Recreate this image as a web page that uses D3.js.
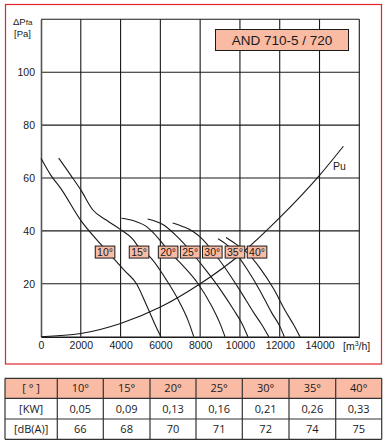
<!DOCTYPE html>
<html>
<head>
<meta charset="utf-8">
<script src="https://cdn.jsdelivr.net/npm/d3@7"></script>
<style>
  body { margin: 0; background: #fff; }
  svg { display: block; font-family: "Liberation Sans", Arial, sans-serif; }
</style>
</head>
<body>
<div id="chart"></div>
<script>
// fan curves (q in m3/h, p in Pa)
const angles = ["10°", "15°", "20°", "25°", "30°", "35°", "40°"];
const curve10 = [[0, 67.5], [500, 61], [1000, 56], [2000, 44], [3000, 35], [3600, 30], [4200, 25], [4800, 20], [5300, 12], [5800, 3.5], [6030, 0]];
const curve15 = [[890, 67.5], [1500, 61], [2000, 55.5], [2600, 48], [3300, 44], [4000, 40.5], [4600, 37], [5000, 33], [5500, 30], [6300, 21.5], [7000, 12.5], [7400, 6], [7680, 0]];
const curve20 = [[4050, 44.8], [4640, 43.9], [5310, 41.6], [5900, 37.2], [6400, 32.5], [7050, 27.5], [7850, 20.5], [8550, 12], [8970, 5.5], [9250, 0]];
const curve25 = [[5360, 44.5], [6150, 42.3], [6820, 38], [7500, 32.5], [8200, 26], [9000, 18], [9700, 10], [10100, 5], [10400, 0]];
const curve30 = [[6620, 43], [7150, 41.6], [7660, 39.7], [8100, 37], [8610, 32.5], [9300, 25.5], [10000, 17.5], [10700, 9], [11100, 4.5], [11450, 0]];
const curve35 = [[8900, 37], [9300, 35], [9750, 32], [10400, 25], [11000, 17.5], [11600, 9], [12000, 4], [12230, 0]];
const curve40 = [[9300, 37.5], [9800, 35], [10400, 31.5], [11000, 26], [11700, 18], [12300, 9.5], [12700, 4.5], [13020, 0]];
const fanCurves = [curve10, curve15, curve20, curve25, curve30, curve35, curve40];

// where the angle boxes sit
const labelQ = [3220, 4930, 6390, 7500, 8610, 9750, 10860];
const labelP = 32;

// Pu system curve
const puCurve = [[0, 0], [2000, 1.2], [4000, 5], [6000, 11.2], [8000, 20], [10000, 31], [12000, 45], [14000, 61], [15200, 72]];

const xTicks = [0, 2000, 4000, 6000, 8000, 10000, 12000, 14000];
const xGrid = [2000, 4000, 6000, 8000, 10000, 12000, 14000, 16000];
const yTicks = [20, 40, 60, 80, 100];
const yGrid = [20, 40, 60, 80, 100, 120];

// table
const rowHeads = ["[ ° ]", "[KW]", "[dB(A)]"];
const kw = ["0,05", "0,09", "0,13", "0,16", "0,21", "0,26", "0,33"];
const dba = ["66", "68", "70", "71", "72", "74", "75"];

const W = 389, H = 445;
const salmon = "#f9bba4";
const ink = "#1a1a1a";

const svg = d3.select("#chart").append("svg")
    .attr("width", W)
    .attr("height", H);

// red frame round the chart
svg.append("rect")
    .attr("x", 5.5).attr("y", 4.5)
    .attr("width", 376).attr("height", 359.5)
    .attr("fill", "none")
    .attr("stroke", "#e3232b")
    .attr("stroke-width", 1.2);

const x = d3.scaleLinear().domain([0, 16000]).range([41, 359.3]);
const y = d3.scaleLinear().domain([0, 120]).range([336.7, 19.3]);

// grid
const grid = svg.append("g").attr("stroke", ink).attr("stroke-width", 1.1);
grid.selectAll(".vg").data(xGrid).join("line")
    .attr("x1", d => x(d)).attr("x2", d => x(d))
    .attr("y1", y(0)).attr("y2", y(120));
grid.selectAll(".hg").data(yGrid).join("line")
    .attr("x1", x(0)).attr("x2", x(16000))
    .attr("y1", d => y(d)).attr("y2", d => y(d));

// axes
svg.append("g")
    .attr("transform", `translate(0,${y(0)})`)
    .call(d3.axisBottom(x).tickValues(xTicks).tickSize(0).tickPadding(5).tickFormat(d3.format("d")))
    .call(g => g.select(".domain").attr("stroke", ink).attr("stroke-width", 1.4))
    .selectAll("text")
    .attr("font-size", 10.5)
    .attr("font-family", "Liberation Sans, Arial, sans-serif")
    .attr("fill", ink);

svg.append("g")
    .attr("transform", `translate(${x(0)},0)`)
    .call(d3.axisLeft(y).tickValues(yTicks).tickSize(0).tickPadding(6))
    .call(g => g.select(".domain").attr("stroke", "#555").attr("stroke-width", 1.6))
    .selectAll("text")
    .attr("font-size", 10.5)
    .attr("font-family", "Liberation Sans, Arial, sans-serif")
    .attr("fill", ink);

// axis titles
const yt = svg.append("text")
    .attr("x", 13).attr("y", 25)
    .attr("font-size", 9.5).attr("fill", ink);
yt.append("tspan").text("ΔP");
yt.append("tspan").attr("font-size", 8).text("fa");
svg.append("text")
    .attr("x", 14).attr("y", 37)
    .attr("font-size", 9.5).attr("fill", ink)
    .text("[Pa]");

const xt = svg.append("text")
    .attr("x", 343).attr("y", 350)
    .attr("font-size", 10.5).attr("fill", ink);
xt.append("tspan").text("[m");
xt.append("tspan").attr("font-size", 7).attr("dy", -4).text("3");
xt.append("tspan").attr("dy", 4).text("/h]");

// curves
const line = d3.line()
    .x(d => x(d[0]))
    .y(d => y(d[1]))
    .curve(d3.curveMonotoneX);

svg.append("g").selectAll("path").data(fanCurves).join("path")
    .attr("d", line)
    .attr("fill", "none")
    .attr("stroke", ink)
    .attr("stroke-width", 1.1);

svg.append("path")
    .datum(puCurve)
    .attr("d", line)
    .attr("fill", "none")
    .attr("stroke", ink)
    .attr("stroke-width", 1.1);

svg.append("text")
    .attr("x", 333).attr("y", 170)
    .attr("font-size", 10.5).attr("fill", ink)
    .text("Pu");

// angle boxes
const boxes = svg.append("g").selectAll("g").data(angles).join("g")
    .attr("transform", (d, i) => `translate(${x(labelQ[i])},${y(labelP)})`);
boxes.append("rect")
    .attr("x", -9.8).attr("y", -6)
    .attr("width", 19.6).attr("height", 12)
    .attr("fill", salmon)
    .attr("stroke", ink)
    .attr("stroke-width", 1);
boxes.append("text")
    .attr("text-anchor", "middle")
    .attr("y", 4)
    .attr("font-size", 10.5)
    .attr("fill", ink)
    .text(d => d);

// model box
svg.append("rect")
    .attr("x", 215.5).attr("y", 29.5)
    .attr("width", 133).attr("height", 21)
    .attr("fill", salmon)
    .attr("stroke", ink)
    .attr("stroke-width", 1);
svg.append("text")
    .attr("x", 282).attr("y", 45)
    .attr("text-anchor", "middle")
    .attr("font-size", 13.5)
    .attr("fill", ink)
    .text("AND 710-5 / 720");

// table
const colX = [5, 57.3, 103.3, 150, 196, 242.3, 289, 335.7, 381.7];
const rowY = [378.3, 398.3, 419, 439.3];
const rows = [angles, kw, dba];
const table = svg.append("g").attr("font-family", "Open Sans, Noto Sans, sans-serif");

table.append("rect")
    .attr("x", colX[0]).attr("y", rowY[0])
    .attr("width", colX[8] - colX[0]).attr("height", rowY[1] - rowY[0])
    .attr("fill", salmon);

rows.forEach((r, ri) => {
    const cells = [rowHeads[ri]].concat(r);
    table.append("g").selectAll("text").data(cells).join("text")
        .attr("x", (d, i) => (colX[i] + colX[i + 1]) / 2)
        .attr("y", (rowY[ri] + rowY[ri + 1]) / 2 + 4)
        .attr("text-anchor", "middle")
        .attr("font-size", 11)
        .attr("fill", ink)
        .text(d => d);
});

table.append("g").selectAll("line").data(colX).join("line")
    .attr("x1", d => d).attr("x2", d => d)
    .attr("y1", rowY[0]).attr("y2", rowY[3])
    .attr("stroke", "#333").attr("stroke-width", 1.2);
table.append("g").selectAll("line").data(rowY).join("line")
    .attr("x1", colX[0]).attr("x2", colX[8])
    .attr("y1", d => d).attr("y2", d => d)
    .attr("stroke", "#333").attr("stroke-width", 1.2);
</script>
</body>
</html>
